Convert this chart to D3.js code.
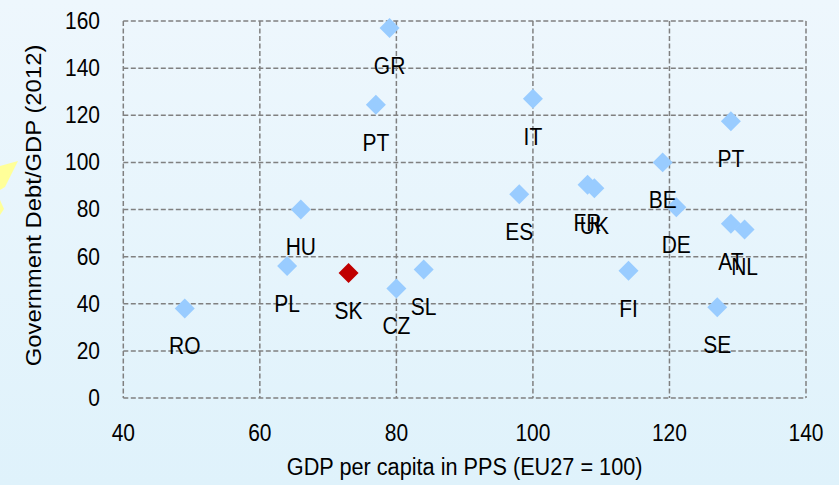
<!DOCTYPE html>
<html><head><meta charset="utf-8">
<script src="https://cdn.jsdelivr.net/npm/d3@7/dist/d3.min.js"></script>
<style>
html,body{margin:0;padding:0;overflow:hidden;}
svg{display:block;font-family:"Liberation Sans",Arial,sans-serif;}
</style></head>
<body>
<svg id="chart" width="839" height="485"></svg>
<script>
// ---- data ----
const countries = ["RO","PL","HU","SK","CZ","SL","GR","PT","IT","ES","FR","UK","BE","DE","PT","AT","NL","FI","SE"];
const gdpPerCapita = [49,64,66,73,80,84,79,77,100,98,108,109,119,121,129,129,131,114,127];
const debtToGdp   = [38,56,80,53,46.5,54.5,157,124.5,127,86.5,90.5,89,100,81,117.5,74,71.5,54,38.5];
const highlighted = ["SK"];
const xTicks = [40,60,80,100,120,140];
const yTicks = [0,20,40,60,80,100,120,140,160];
const xTitle = "GDP per capita in PPS (EU27 = 100)";
const yTitle = "Government Debt/GDP (2012)";

const W = 839, H = 485;
const m = {left:123.3, right:806, top:21, bottom:398};
const svg = d3.select("#chart");
const SY = 1.12; // vertical text stretch
const FS = 21;

// background
const defs = svg.append("defs");
const grad = defs.append("linearGradient").attr("id","bg").attr("x1",0).attr("y1",0).attr("x2",0).attr("y2",1);
grad.append("stop").attr("offset","0%").attr("stop-color","#eef7fd");
grad.append("stop").attr("offset","100%").attr("stop-color","#dff2fb");
svg.append("rect").attr("width",W).attr("height",H).attr("fill","url(#bg)");

// decorative star fragment at left edge
svg.append("polygon").attr("points","0,166 18,161 5,187 0,190").attr("fill","#ffff99");
svg.append("polygon").attr("points","0,200 4,209 0,215").attr("fill","#ffff99");

const x = d3.scaleLinear().domain([40,140]).range([m.left,m.right]);
const y = d3.scaleLinear().domain([0,160]).range([m.bottom,m.top]);

const gridStyle = g => g.attr("stroke","#808080").attr("stroke-width",1.5).attr("stroke-dasharray","5,2.5").attr("fill","none");

// gridlines
const grid = svg.append("g");
grid.selectAll("line.h").data(yTicks).join("line").attr("class","h")
  .attr("x1",m.left).attr("x2",m.right).attr("y1",d=>y(d)).attr("y2",d=>y(d)).call(gridStyle);
grid.selectAll("line.v").data(xTicks).join("line").attr("class","v")
  .attr("y1",m.top).attr("y2",m.bottom).attr("x1",d=>x(d)).attr("x2",d=>x(d)).call(gridStyle);

function txt(parent, px, py, s, anchor, rot, fs){
  const g = parent.append("g").attr("transform",`translate(${px},${py})` + (rot?` rotate(${rot})`:""));
  g.append("text").attr("transform", rot ? `scale(${SY},1)` : `scale(1,${SY})`)
    .attr("text-anchor",anchor||"middle").attr("dominant-baseline","central")
    .attr("font-size",fs||FS).attr("fill","#000").text(s);
  return g;
}

// tick labels
const axes = svg.append("g");
yTicks.forEach(t => txt(axes, 100, y(t), d3.format("d")(t), "end"));
xTicks.forEach(t => txt(axes, x(t), 433, d3.format("d")(t), "middle"));

// axis titles
txt(axes, (m.left+m.right)/2, 467, xTitle, "middle", 0, 21.7);
txt(axes, 34, (m.top+m.bottom)/2 - 4, yTitle, "middle", -90, 21.3);

// points
const data = countries.map((c,i)=>({c, gx:gdpPerCapita[i], dy:debtToGdp[i]}));
const diamond = d3.symbol().type(d3.symbolSquare).size(200);
const pts = svg.append("g");
pts.selectAll("path").data(data).join("path")
  .attr("d", diamond)
  .attr("transform", d=>`translate(${x(d.gx)},${y(d.dy)}) rotate(45)`)
  .attr("fill", d=> highlighted.includes(d.c) ? "#c00000" : "#99ccff");

// labels
const labs = svg.append("g");
data.forEach(d => txt(labs, x(d.gx), y(d.dy)+38, d.c, "middle"));
</script>
</body></html>
